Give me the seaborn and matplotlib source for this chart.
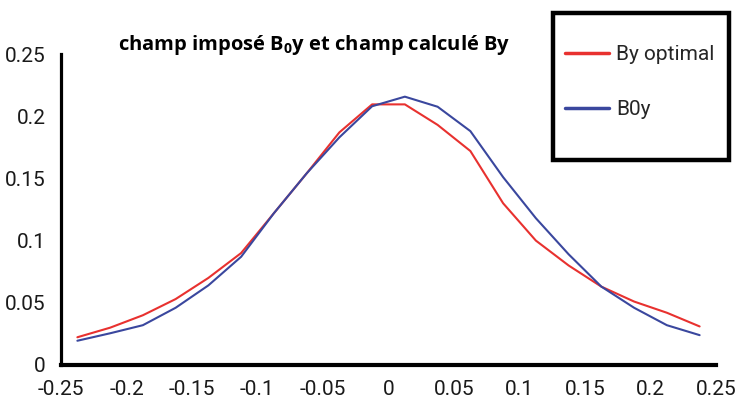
import matplotlib
matplotlib.use("Agg")
import matplotlib.pyplot as plt
from matplotlib.patches import Rectangle
from matplotlib.ticker import FuncFormatter
import numpy as np
import pandas as pd
import seaborn as sns

# Position along the axis (m) and field values of both curves
position = [-0.2375, -0.2125, -0.1875, -0.1625, -0.1375, -0.1125, -0.0875,
            -0.0625, -0.0375, -0.0125, 0.0125, 0.0375, 0.0625, 0.0875,
            0.1125, 0.1375, 0.1625, 0.1875, 0.2125, 0.2375]
by_optimal = [0.0223, 0.030, 0.040, 0.053, 0.070, 0.090, 0.122, 0.154,
              0.187, 0.2095, 0.2095, 0.193, 0.172, 0.130, 0.100, 0.080,
              0.063, 0.051, 0.042, 0.031]
b0y = [0.0195, 0.0255, 0.032, 0.046, 0.064, 0.087, 0.122, 0.154,
       0.183, 0.208, 0.2157, 0.2076, 0.188, 0.151, 0.118, 0.089,
       0.063, 0.046, 0.032, 0.024]
series_names = ["By optimal", "B0y"]
x_ticks = [-0.25, -0.2, -0.15, -0.1, -0.05, 0, 0.05, 0.1, 0.15, 0.2, 0.25]
y_ticks = [0, 0.05, 0.1, 0.15, 0.2, 0.25]
title_text = r"champ imposé B$_\mathbf{0}$y et champ calculé By"

df = pd.DataFrame({
    "x": position * 2,
    "B": by_optimal + b0y,
    "serie": [series_names[0]] * len(position) + [series_names[1]] * len(position),
})

sns.set_style("white")
plt.rcParams["font.family"] = ["Roboto", "DejaVu Sans"]
plt.rcParams["axes.unicode_minus"] = False
plt.rcParams["mathtext.fontset"] = "custom"
plt.rcParams["mathtext.bf"] = "Open Sans:bold"
plt.rcParams["mathtext.rm"] = "Open Sans:bold"

fig = plt.figure(figsize=(7.41, 4.12), dpi=100)
ax = fig.add_axes([61 / 741, 1 - 365 / 412, (716 - 61) / 741, (365 - 54) / 412])

palette = {series_names[0]: "#e8312f", series_names[1]: "#3a479e"}
sns.lineplot(data=df, x="x", y="B", hue="serie", palette=palette,
             linewidth=1.5, ax=ax, legend=True, sort=False)

ax.set_xlim(-0.25, 0.25)
ax.set_ylim(0, 0.25)
ax.set_xticks(x_ticks)
ax.set_yticks(y_ticks)
fmt = FuncFormatter(lambda v, p: "%g" % round(v, 3))
ax.xaxis.set_major_formatter(fmt)
ax.yaxis.set_major_formatter(fmt)
ax.set_xlabel("")
ax.set_ylabel("")

for side in ("top", "right"):
    ax.spines[side].set_visible(False)
ax.spines["left"].set_linewidth(2.3)
ax.spines["bottom"].set_linewidth(3.0)
ax.spines["left"].set_color("black")
ax.spines["bottom"].set_color("black")

ax.tick_params(axis="x", direction="in", length=10, width=0.8, color="#555555",
               labelsize=15, pad=11, labelcolor="#1a1a1a")
ax.tick_params(axis="y", direction="in", length=7, width=0.8, color="#555555",
               labelsize=15, pad=11, labelcolor="#1a1a1a")

fig.text(314 / 741, 1 - 45 / 412, title_text, ha="center", va="center",
         fontsize=14.5, fontweight="bold", family=["Open Sans", "DejaVu Sans"],
         color="black")

# Legend frame and entries
fig.patches.append(Rectangle((553 / 741, 1 - 160 / 412), (729 - 553) / 741,
                             (160 - 13) / 412, transform=fig.transFigure,
                             fill=True, facecolor="white", edgecolor="black",
                             linewidth=3.2, zorder=5))
handles, labels = ax.get_legend_handles_labels()
for h in handles:
    h.set_linewidth(2.5)
leg = fig.legend(handles, labels, loc="upper left",
                 bbox_to_anchor=(555 / 741, 1 - 35 / 412),
                 frameon=False, fontsize=15, handlelength=2.1,
                 handletextpad=0.35, labelspacing=1.7, borderpad=0)
leg.set_zorder(6)
ax.get_legend().remove()

fig.savefig("out.png", dpi=100)
